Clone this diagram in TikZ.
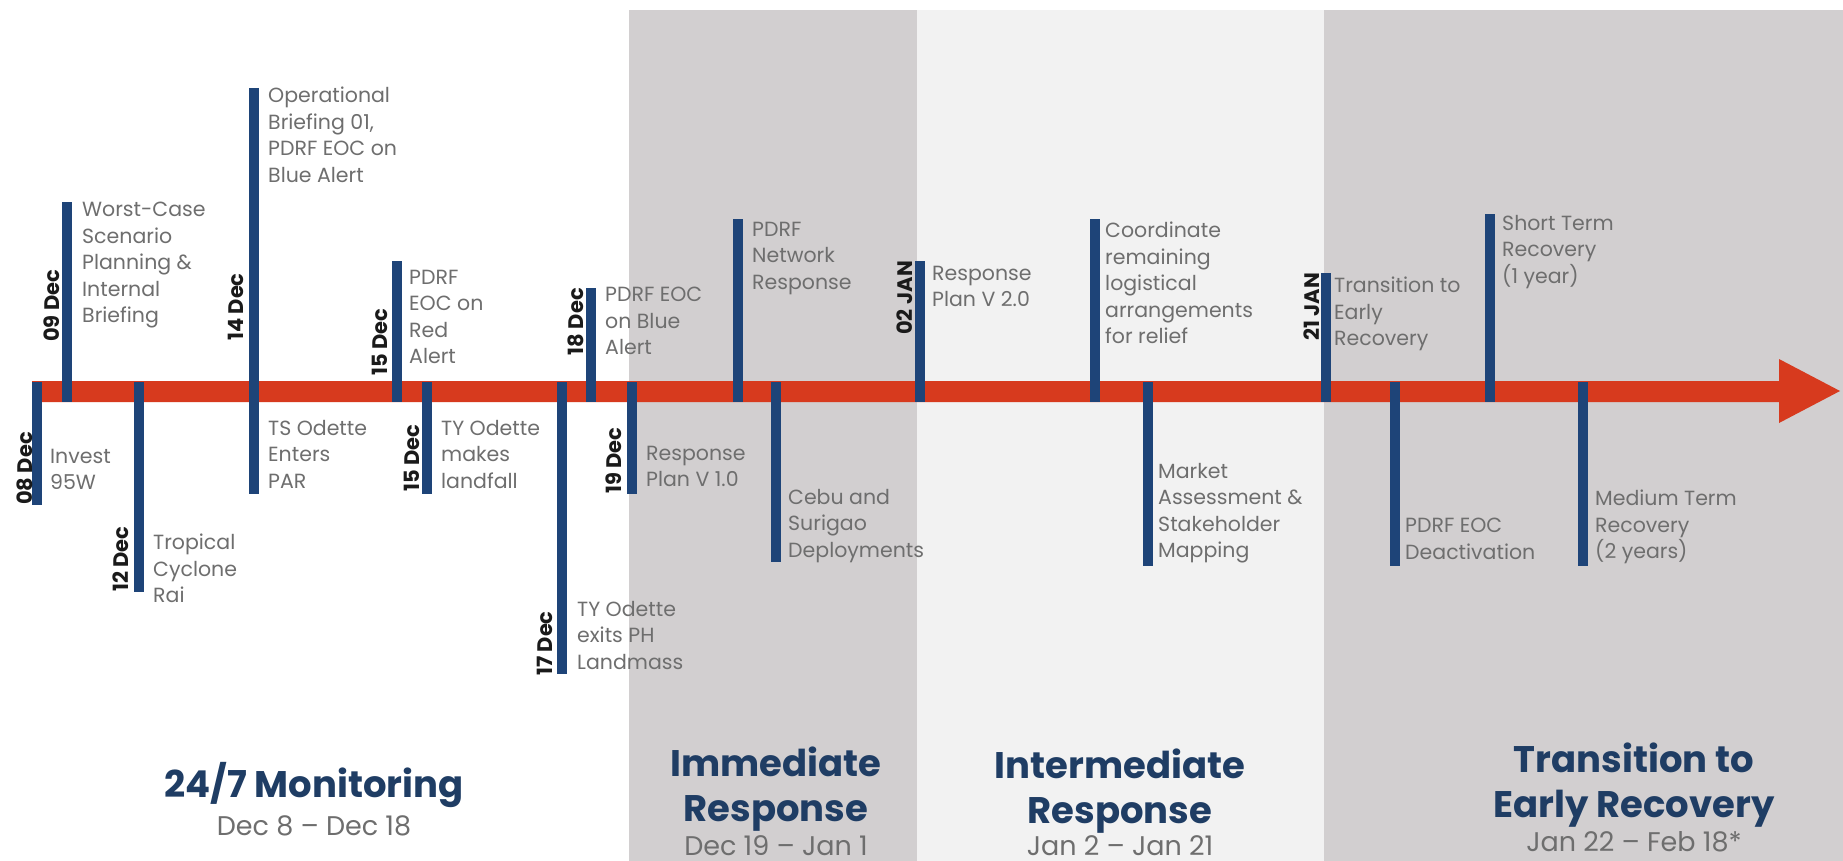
\documentclass[tikz,border=0pt]{standalone}
\usepackage{fontspec}
\setmainfont{Poppins}
\definecolor{tlblue}{HTML}{1E4478}
\definecolor{tlred}{HTML}{D73A1E}
\definecolor{bandgray}{HTML}{D2CFD0}
\definecolor{bandlight}{HTML}{F2F2F2}
\definecolor{evgray}{HTML}{6E6E6E}
\definecolor{lbldark}{HTML}{1A1A1A}
\definecolor{navy}{HTML}{1F3D64}
\begin{document}
\begin{tikzpicture}[x=1pt,y=-1pt,
  bar/.style={line width=10pt, draw=tlblue},
  evtext/.style={anchor=north west, inner sep=0pt, align=left, text=evgray, font=\fontsize{20.5}{26.5}\selectfont},
  datelbl/.style={rotate=90, anchor=west, inner sep=0pt, text=lbldark, font=\bfseries\fontsize{21}{22}\selectfont},
  datelbltop/.style={datelbl, anchor=east},
  phase/.style={align=center, inner sep=0pt, text=navy, font=\bfseries\fontsize{37}{45}\selectfont},
  phasedate/.style={inner sep=0pt, text=evgray, font=\fontsize{27}{30}\selectfont}]
\useasboundingbox (0,0) rectangle (1843,861);
\fill[white] (0,0) rectangle (1843,861);
% phase bands
\fill[bandgray] (629,10) rectangle (917,861);
\fill[bandlight] (917,10) rectangle (1324,861);
\fill[bandgray] (1324,10) rectangle (1843,861);
% main arrow
\coordinate (a1) at (32,381);
\coordinate (a2) at (1779,381);
\coordinate (a3) at (1779,359);
\coordinate (tip) at (1840,391);
\coordinate (a5) at (1779,423);
\coordinate (a6) at (1779,402);
\coordinate (a7) at (32,402);
\fill[tlred] (a1) -- (a2) -- (a3) -- (tip) -- (a5) -- (a6) -- (a7) -- cycle;
% event bars
\coordinate (b1t) at (37,382);   \coordinate (b1b) at (37,505);
\coordinate (b2t) at (67,202);   \coordinate (b2b) at (67,402);
\coordinate (b3t) at (139,382);  \coordinate (b3b) at (139,592);
\coordinate (b4t) at (254,88);   \coordinate (b4b) at (254,494);
\coordinate (b5t) at (397,261);  \coordinate (b5b) at (397,402);
\coordinate (b6t) at (427,382);  \coordinate (b6b) at (427,494);
\coordinate (b7t) at (562,382);  \coordinate (b7b) at (562,674);
\coordinate (b8t) at (591,288);  \coordinate (b8b) at (591,402);
\coordinate (b9t) at (632,382);  \coordinate (b9b) at (632,494);
\coordinate (b10t) at (738,219); \coordinate (b10b) at (738,402);
\coordinate (b11t) at (776,382); \coordinate (b11b) at (776,562);
\coordinate (b12t) at (920,261); \coordinate (b12b) at (920,402);
\coordinate (b13t) at (1095,219);\coordinate (b13b) at (1095,402);
\coordinate (b14t) at (1148,382);\coordinate (b14b) at (1148,566);
\coordinate (b15t) at (1326,273);\coordinate (b15b) at (1326,402);
\coordinate (b16t) at (1490,214);\coordinate (b16b) at (1490,402);
\coordinate (b17t) at (1395,382);\coordinate (b17b) at (1395,566);
\coordinate (b18t) at (1583,382);\coordinate (b18b) at (1583,566);
\foreach \i in {1,...,18} {\draw[bar] (b\i t) -- (b\i b);}
% event texts
\node[evtext] (t1) at (50,449) {Invest\\95W};
\node[evtext] (t2) at (82,202) {Worst-Case\\Scenario\\Planning \&\\Internal\\Briefing};
\node[evtext] (t3) at (153,534) {Tropical\\Cyclone\\Rai};
\node[evtext] (t4a) at (268,87) {Operational\\Briefing 01,\\PDRF EOC on\\Blue Alert};
\node[evtext] (t4b) at (268,420) {TS Odette\\Enters\\PAR};
\node[evtext] (t5) at (409,270) {PDRF\\EOC on\\Red\\Alert};
\node[evtext] (t6) at (441,420) {TY Odette\\makes\\landfall};
\node[evtext] (t7) at (577,601) {TY Odette\\exits PH\\Landmass};
\node[evtext] (t8) at (605,287) {PDRF EOC\\on Blue\\Alert};
\node[evtext] (t9) at (646,446) {Response\\Plan V 1.0};
\node[evtext] (t10) at (752,222) {PDRF\\Network\\Response};
\node[evtext] (t11) at (788,489) {Cebu and\\Surigao\\Deployments};
\node[evtext] (t12) at (932,266) {Response\\Plan V 2.0};
\node[evtext] (t13) at (1105,222) {Coordinate\\remaining\\logistical\\arrangements\\for relief};
\node[evtext] (t14) at (1158,463) {Market\\Assessment \&\\Stakeholder\\Mapping};
\node[evtext] (t15) at (1334,277) {Transition to\\Early\\Recovery};
\node[evtext] (t16) at (1502,215) {Short Term\\Recovery\\(1 year)};
\node[evtext] (t17) at (1405,518) {PDRF EOC\\Deactivation};
\node[evtext] (t18) at (1595,490) {Medium Term\\Recovery\\(2 years)};
% date labels
\node[datelbl] (d1) at (25,505) {08 Dec};
\node[datelbl] (d2) at (52,342) {09 Dec};
\node[datelbl] (d3) at (121,592) {12 Dec};
\node[datelbl] (d4) at (236,341) {14 Dec};
\node[datelbl] (d5) at (380,376) {15 Dec};
\node[datelbl] (d6) at (412,492) {15 Dec};
\node[datelbl] (d7) at (545,676) {17 Dec};
\node[datelbltop] (d8) at (576,288) {18 Dec};
\node[datelbl] (d9) at (614,494) {19 Dec};
\node[datelbltop] (d12) at (905,261) {02 JAN};
\node[datelbltop] (d15) at (1312,273) {21 JAN};
% phase titles
\node[phase] (p1) at (314,785) {24/7 Monitoring};
\node[phasedate] (p1d) at (314,826) {Dec 8 – Dec 18};
\node[phase] (p2) at (776,789) {Immediate\\Response};
\node[phasedate] (p2d) at (776,846) {Dec 19 – Jan 1};
\node[phase] (p3) at (1120,791) {Intermediate\\Response};
\node[phasedate] (p3d) at (1120,846) {Jan 2 – Jan 21};
\node[phase] (p4) at (1634,785) {Transition to\\Early Recovery};
\node[phasedate] (p4d) at (1634,842) {Jan 22 – Feb 18*};
\end{tikzpicture}
\end{document}
